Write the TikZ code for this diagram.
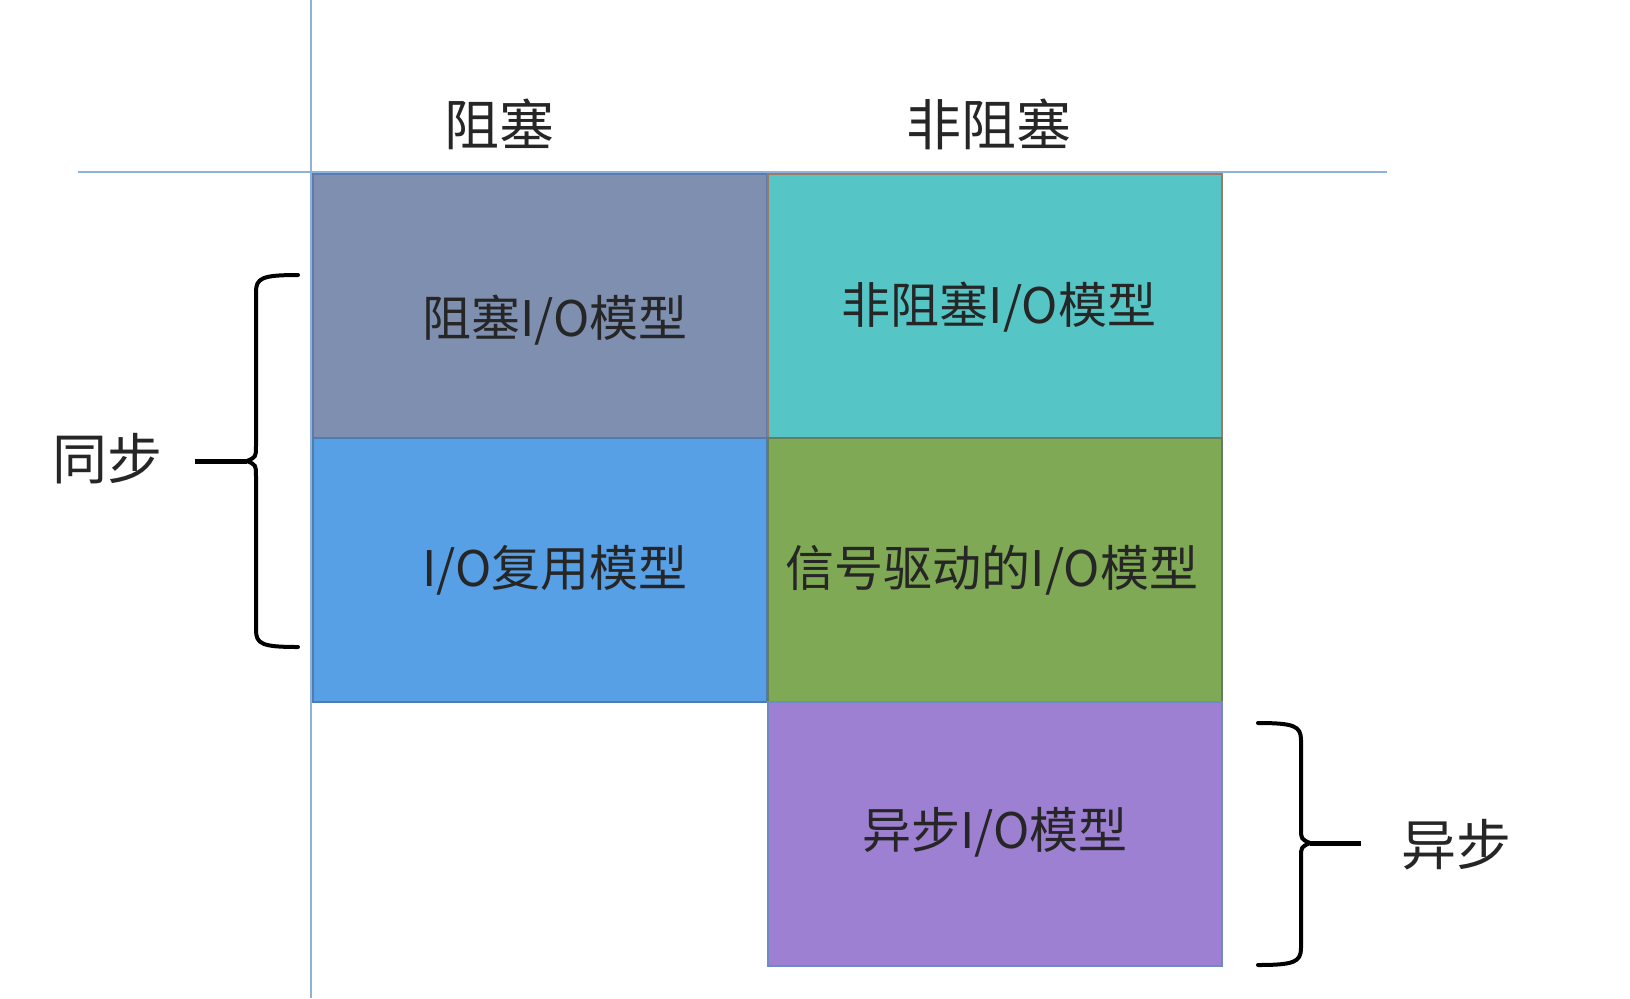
\documentclass[tikz,border=0pt]{standalone}
\usepackage{fontspec}
\setmainfont{Noto Sans CJK SC}
\definecolor{cellgray}{HTML}{7F8FAF}
\definecolor{cellteal}{HTML}{55C5C5}
\definecolor{cellblue}{HTML}{57A0E6}
\definecolor{cellgreen}{HTML}{7FA955}
\definecolor{cellpurple}{HTML}{9E80D2}
\definecolor{axisblue}{HTML}{8EB2DE}
\begin{document}
\begin{tikzpicture}[x=0.5pt, y=-0.5pt,
	cell/.style={draw, line width=1pt, minimum width=227pt, minimum height=132pt, inner sep=0pt, outer sep=0pt},
	celltext/.style={font=\fontsize{24.5}{28}\selectfont, text=black!85},
	headtext/.style={font=\fontsize{27.5}{32}\selectfont, text=black!85},
	brace/.style={line width=2pt, line cap=round, line join=round}]
				\useasboundingbox (0,0) rectangle (1630,998);

				% 線を引く
				\draw[axisblue, line width=1pt] (311,0) -- (311,998);
				\draw[axisblue, line width=1pt] (78,172) -- (1387,172);

				% 箱
				\node[cell, fill=cellgray, draw={rgb,255:red,92;green,122;blue,170}] (A) at (540,306) {};
				\node[cell, fill=cellblue, draw={rgb,255:red,80;green,125;blue,175}] (C) at (540,570) {};
				\node[cell, fill=cellteal, draw={rgb,255:red,160;green,120;blue,100}] (B) at (995,306) {};
				\node[cell, fill=cellgreen, draw={rgb,255:red,100;green,125;blue,90}] (D) at (995,570) {};
				\node[cell, fill=cellpurple, draw={rgb,255:red,110;green,140;blue,195}] (E) at (995,834) {};

				% 値を入れる
				\node[headtext] (h1) at (499,124) {阻塞};
				\node[headtext] (h2) at (989,124) {非阻塞};
				\node[celltext] (a) at (555,320) {阻塞I/O模型};
				\node[celltext] (b) at (999,307) {非阻塞I/O模型};
				\node[celltext] (c) at (555,570) {I/O复用模型};
				\node[celltext] (d) at (992,570) {信号驱动的I/O模型};
				\node[celltext] (e) at (995,832) {异步I/O模型};

				% 括弧
				\draw[brace] (298,275) .. controls (262,275) and (256,278) .. (256,292) -- (256,446)
					.. controls (256,457) .. (247,461) .. controls (256,465) .. (256,476) -- (256,630)
					.. controls (256,644) and (262,647) .. (298,647);
				\coordinate (s1) at (247,461);
				\node[headtext] (sync) at (108,459) {同步};
				\draw[line width=2.5pt] (s1) -- (195,461);

				\draw[brace] (1258,723) .. controls (1294,723) and (1301,726) .. (1301,740) -- (1301,828)
					.. controls (1301,839) .. (1310,843) .. controls (1301,847) .. (1301,858) -- (1301,948)
					.. controls (1301,962) and (1294,965) .. (1258,965);
				\coordinate (s2) at (1310,843);
				\node[headtext] (async) at (1456,845) {异步};
				\draw[line width=2.5pt] (s2) -- (1361,843);
\end{tikzpicture}
\end{document}
